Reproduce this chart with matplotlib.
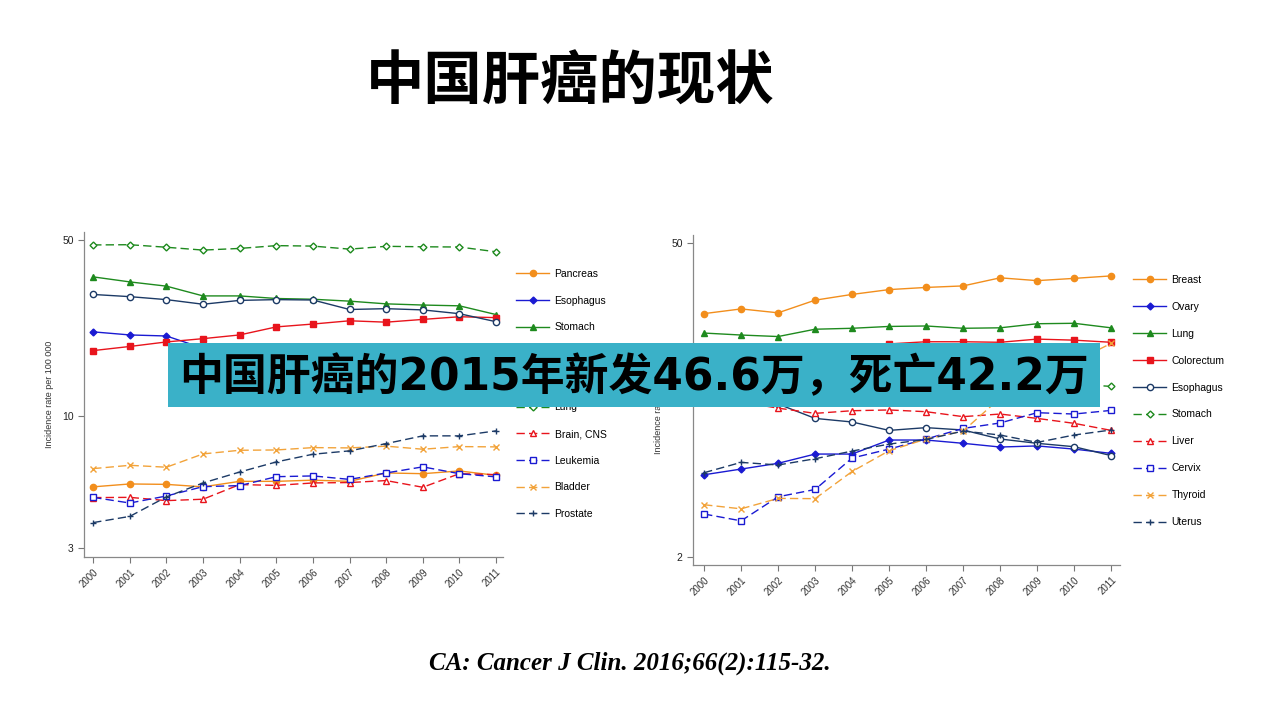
import matplotlib
matplotlib.use("Agg")
import matplotlib.pyplot as plt
from matplotlib.patches import Rectangle

plt.rcParams['font.family'] = ['Liberation Sans', 'Noto Sans CJK SC', 'DejaVu Sans']

years = list(range(2000, 2012))

# left panel (males), incidence per 100 000
pancreas_m = [5.24, 5.38, 5.36, 5.24, 5.51, 5.51, 5.57, 5.51, 5.95, 5.91, 6.06, 5.82]
esophagus_m = [21.6, 21.0, 20.8, 18.6, 18.0, 17.4, 16.9, 16.4, 16.0, 15.6, 15.2, 14.8]
stomach_m = [35.7, 34.1, 32.8, 30.0, 30.0, 29.3, 29.1, 28.6, 27.9, 27.6, 27.4, 25.3]
colorectum_m = [18.2, 18.9, 19.7, 20.3, 21.0, 22.6, 23.2, 23.9, 23.6, 24.2, 24.8, 24.6]
liver_m = [30.4, 29.8, 29.0, 27.8, 28.8, 29.0, 28.9, 26.5, 26.7, 26.4, 25.5, 23.7]
lung_m = [47.8, 47.9, 46.8, 45.6, 46.3, 47.5, 47.3, 46.0, 47.2, 47.0, 46.9, 44.9]
brain_m = [4.75, 4.76, 4.62, 4.68, 5.35, 5.31, 5.43, 5.45, 5.55, 5.22, 5.91, 5.86]
leukemia_m = [4.76, 4.52, 4.82, 5.25, 5.30, 5.75, 5.79, 5.61, 5.95, 6.29, 5.91, 5.74]
bladder_m = [6.19, 6.38, 6.27, 7.08, 7.32, 7.34, 7.50, 7.48, 7.60, 7.39, 7.57, 7.55]
prostate_m = [3.78, 4.00, 4.78, 5.43, 6.00, 6.58, 7.06, 7.28, 7.78, 8.35, 8.35, 8.74]

# right panel (females)
breast_f = [24.3, 25.5, 24.5, 27.9, 29.6, 31.1, 31.8, 32.3, 35.1, 34.1, 34.9, 35.8]
ovary_f = [4.64, 4.92, 5.22, 5.74, 5.74, 6.63, 6.63, 6.41, 6.17, 6.24, 6.04, 5.78]
lung_f = [19.9, 19.5, 19.2, 20.7, 20.9, 21.3, 21.4, 20.9, 21.0, 21.9, 22.0, 21.0]
colorectum_f = [14.0, 14.5, 14.9, 15.8, 16.8, 17.8, 18.2, 18.2, 18.1, 18.7, 18.5, 18.1]
esophagus_f = [11.5, 10.6, 9.6, 8.28, 7.98, 7.32, 7.53, 7.35, 6.70, 6.41, 6.19, 5.65]
stomach_f = [14.5, 14.2, 13.8, 13.5, 13.2, 13.0, 12.8, 12.5, 12.3, 12.0, 11.8, 11.5]
liver_f = [10.2, 9.8, 9.2, 8.72, 8.96, 9.03, 8.87, 8.43, 8.66, 8.28, 7.87, 7.32]
cervix_f = [3.10, 2.89, 3.70, 3.99, 5.51, 6.04, 6.70, 7.47, 7.90, 8.78, 8.66, 8.99]
thyroid_f = [3.41, 3.27, 3.64, 3.63, 4.80, 5.94, 6.70, 7.27, 10.2, 12.5, 14.8, 17.9]
uterus_f = [4.74, 5.27, 5.13, 5.47, 5.92, 6.36, 6.67, 7.27, 6.98, 6.47, 6.98, 7.35]

left_ticks = [3, 10, 50]
right_ticks = [2, 50]

title = "中国肝癌的现状"
banner = "中国肝癌的2015年新发46.6万，死亡42.2万"
citation = "CA: Cancer J Clin. 2016;66(2):115-32."

ORANGE = '#f28e1c'
ORANGE2 = '#f2a33a'
BLUE = '#1a1ad2'
GREEN = '#1e8a1e'
RED = '#e8141c'
NAVY = '#1c3a66'
DASH = (0, (6, 3))

# (label, values, color, linestyle, marker, filled)
left_series = [
    ("Pancreas", pancreas_m, ORANGE, '-', 'o', True),
    ("Esophagus", esophagus_m, BLUE, '-', 'D', True),
    ("Stomach", stomach_m, GREEN, '-', '^', True),
    ("Colorectum", colorectum_m, RED, '-', 's', True),
    ("Liver", liver_m, NAVY, '-', 'o', False),
    ("Lung", lung_m, GREEN, DASH, 'D', False),
    ("Brain, CNS", brain_m, RED, DASH, '^', False),
    ("Leukemia", leukemia_m, BLUE, DASH, 's', False),
    ("Bladder", bladder_m, ORANGE2, DASH, 'x', True),
    ("Prostate", prostate_m, NAVY, DASH, '+', True),
]
right_series = [
    ("Breast", breast_f, ORANGE, '-', 'o', True),
    ("Ovary", ovary_f, BLUE, '-', 'D', True),
    ("Lung", lung_f, GREEN, '-', '^', True),
    ("Colorectum", colorectum_f, RED, '-', 's', True),
    ("Esophagus", esophagus_f, NAVY, '-', 'o', False),
    ("Stomach", stomach_f, GREEN, DASH, 'D', False),
    ("Liver", liver_f, RED, DASH, '^', False),
    ("Cervix", cervix_f, BLUE, DASH, 's', False),
    ("Thyroid", thyroid_f, ORANGE2, DASH, 'x', True),
    ("Uterus", uterus_f, NAVY, DASH, '+', True),
]


def draw_panel(ax, series, ylim, yticks, xlim, legend_xy, spacing):
    for label, vals, color, ls, mk, filled in series:
        ms = 3.5 if mk == 'D' else 4.5
        ax.plot(years, vals, color=color, linestyle=ls, linewidth=1.0,
                marker=mk, markersize=ms, markeredgewidth=1.0,
                markerfacecolor=color if filled else 'white',
                markeredgecolor=color, label=label)
    ax.set_yscale('log')
    ax.set_ylim(*ylim)
    ax.set_xlim(*xlim)
    ax.set_yticks(yticks)
    ax.set_yticklabels([str(t) for t in yticks])
    ax.minorticks_off()
    ax.set_xticks(years)
    ax.set_xticklabels([str(y) for y in years], rotation=45, ha='right',
                       rotation_mode='anchor', fontsize=7, color='#333333')
    ax.tick_params(axis='y', labelsize=7.5, labelcolor='#222222', length=4,
                   color='#777777')
    ax.tick_params(axis='x', length=4, color='#777777', pad=3)
    for side in ('top', 'right'):
        ax.spines[side].set_visible(False)
    for side in ('left', 'bottom'):
        ax.spines[side].set_color('#888888')
        ax.spines[side].set_linewidth(0.9)
    ax.set_ylabel("Incidence rate per 100 000", fontsize=6.5, color='#333333',
                  labelpad=6)
    ax.legend(loc='center left', bbox_to_anchor=legend_xy,
              bbox_transform=fig.transFigure, frameon=False, fontsize=7.5,
              handlelength=3.2, handletextpad=0.5, labelspacing=spacing,
              borderpad=0, borderaxespad=0)


fig = plt.figure(figsize=(12.8, 7.2), dpi=100)

ax1 = fig.add_axes([84 / 1280, 1 - 557 / 720, 419 / 1280, 325 / 720])
draw_panel(ax1, left_series, (2.76, 53.8), left_ticks, (1999.75, 2011.19),
           (516 / 1280, 1 - 394 / 720), 1.6)

ax2 = fig.add_axes([693 / 1280, 1 - 565 / 720, 427 / 1280, 330 / 720])
draw_panel(ax2, right_series, (1.836, 54.5), right_ticks, (1999.7, 2011.24),
           (1133 / 1280, 1 - 401 / 720), 1.63)

fig.text(570 / 1280, 1 - 83 / 720, title, ha='center', va='center',
         fontsize=42, fontweight='bold', family=['Noto Sans CJK SC'])

fig.add_artist(Rectangle((168 / 1280, 1 - 407 / 720), 932 / 1280, 64 / 720,
                         transform=fig.transFigure, facecolor='#3ab1c8',
                         edgecolor='none', zorder=5))
fig.text(634 / 1280, 1 - 377 / 720, banner, ha='center', va='center',
         fontsize=31.6, fontweight='bold', color='black', zorder=6,
         family=['DejaVu Sans', 'Noto Sans CJK SC'])

fig.text(630 / 1280, 1 - 663 / 720, citation, ha='center', va='center',
         fontsize=18, fontweight='bold', fontstyle='italic',
         family=['Liberation Serif'])

fig.savefig("out.png", dpi=100)
